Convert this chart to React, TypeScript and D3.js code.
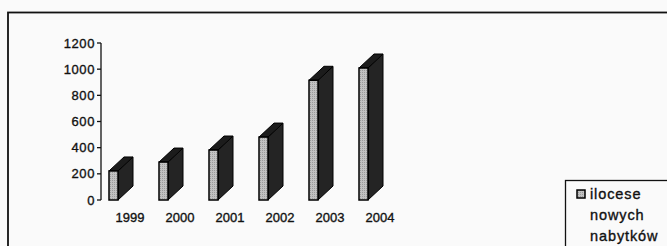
import React from 'react';
import * as d3 from 'd3';

// values
const years = ['1999', '2000', '2001', '2002', '2003', '2004'];
const counts = [222, 290, 382, 481, 915, 1009];
const yTicks = [0, 200, 400, 600, 800, 1000, 1200];
const legendLines = ['ilocese', 'nowych', 'nabytków'];

const W = 667;
const H = 246;

const App = () => {
  // scales
  const x = d3.scaleBand<string>().domain(years).range([101, 401]).padding(0);
  const y = d3.scaleLinear().domain([0, 1200]).range([200, 43]);

  const frontW = 9;
  const dx = 15;
  const dy = 14;
  const y0 = y(0);

  // scanned text looks heavier than plain regular weight
  const ink = { fill: '#111', stroke: '#111', strokeWidth: 0.35 };

  return (
    <svg
      width={W}
      height={H}
      style={{ position: 'absolute', left: 0, top: 0, background: '#fafafa' }}
      fontFamily="'Liberation Sans', Arial, sans-serif"
    >
      <defs>
        <pattern id="stip" width="2" height="2" patternUnits="userSpaceOnUse">
          <rect width="2" height="2" fill="#c2c2c2" />
          <rect width="1" height="1" fill="#9c9c9c" />
        </pattern>
      </defs>

      {/* outer frame, runs off the picture on the right and bottom */}
      <rect x={8} y={12.5} width={720} height={300} fill="none" stroke="#111" strokeWidth={1.8} />

      {/* y axis */}
      <line x1={101} x2={101} y1={y(1200)} y2={y0} stroke="#111" strokeWidth={1.3} />
      {yTicks.map((t) => (
        <g key={t} transform={`translate(0,${y(t)})`}>
          <line x1={97} x2={101} stroke="#111" strokeWidth={1.3} />
          <text x={95} dy="0.35em" textAnchor="end" fontSize={13} letterSpacing={0.6} {...ink}>
            {t}
          </text>
        </g>
      ))}

      {/* 3d columns */}
      {years.map((yr, i) => {
        const fx = (x(yr) as number) + 8;
        const top = y(counts[i]);
        const side = [
          [fx + frontW, top],
          [fx + frontW + dx, top - dy],
          [fx + frontW + dx, y0 - dy],
          [fx + frontW, y0],
        ];
        const lid = [
          [fx, top],
          [fx + dx, top - dy],
          [fx + frontW + dx, top - dy],
          [fx + frontW, top],
        ];
        return (
          <g key={yr}>
            <polygon points={side.join(' ')} fill="#242424" stroke="#000" strokeWidth={1} />
            <polygon points={lid.join(' ')} fill="#1c1c1c" stroke="#000" strokeWidth={1} />
            <rect x={fx} y={top} width={frontW} height={y0 - top} fill="url(#stip)" stroke="#000" strokeWidth={1.5} />
            <text x={fx + 21} y={222} textAnchor="middle" fontSize={13} {...ink}>
              {yr}
            </text>
          </g>
        );
      })}

      {/* legend box, also cut off by the picture edge */}
      <rect x={565.5} y={180.5} width={200} height={100} fill="none" stroke="#111" strokeWidth={1.3} />
      <rect x={577} y={190} width={8} height={8} fill="url(#stip)" stroke="#000" strokeWidth={1.5} />
      {legendLines.map((s, i) => (
        <text key={s} x={590} y={199 + i * 21} fontSize={14.5} letterSpacing={0.9} {...ink}>
          {s}
        </text>
      ))}
    </svg>
  );
};

export default App;
